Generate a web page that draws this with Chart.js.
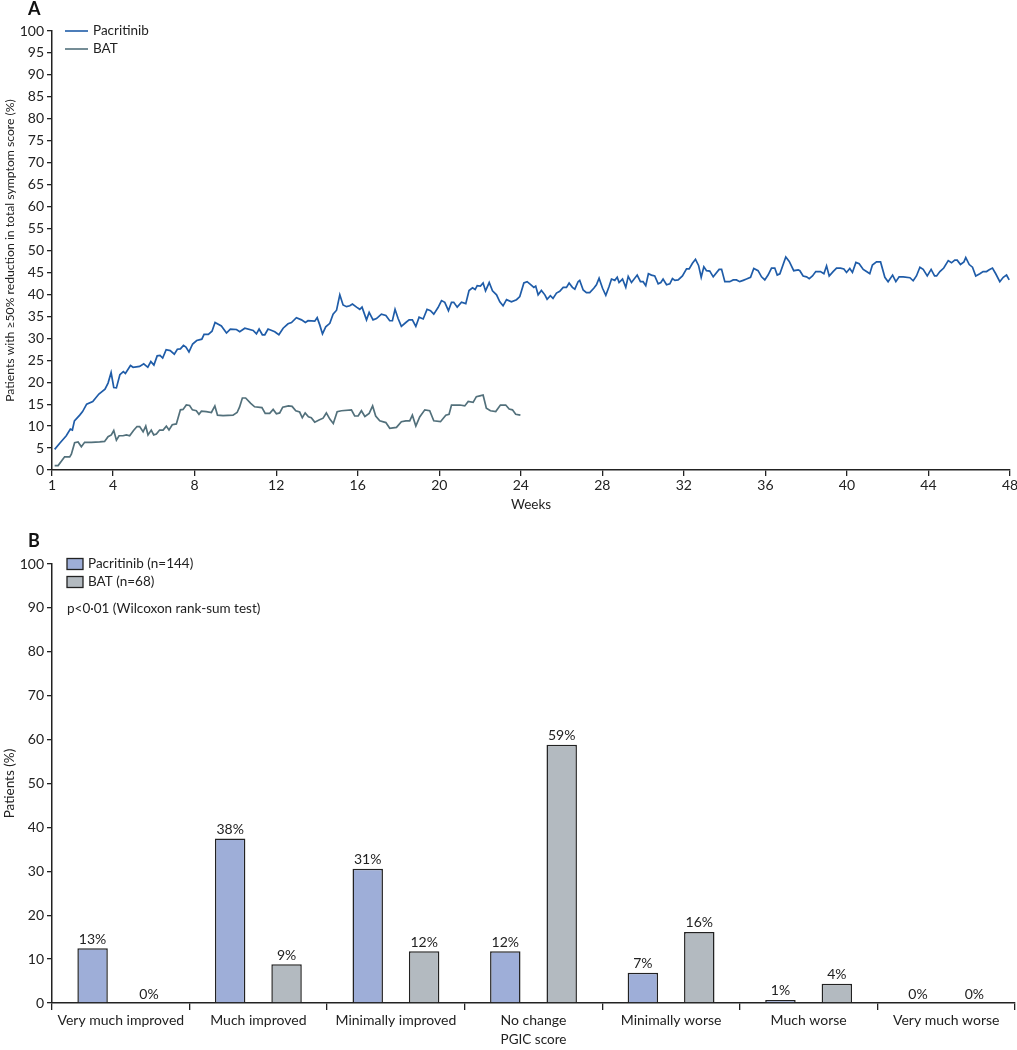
<!DOCTYPE html>
<html>
<head>
<meta charset="utf-8">
<script src="https://cdn.jsdelivr.net/npm/chart.js@4.4.0/dist/chart.umd.min.js"></script>
<style>
  body { margin: 0; background: #fff; font-family: Lato, sans-serif; }
  #wrap { position: relative; width: 1017px; height: 1050px; }
  canvas { position: absolute; left: 0; }
  #chartA { top: 0; }
  #chartB { top: 520px; }
  .panel { position: absolute; left: 28px; font-weight: bold; font-size: 18px; color: #111; }
</style>
</head>
<body>
<div id="wrap">
  <canvas id="chartA" width="1017" height="520"></canvas>
  <canvas id="chartB" width="1017" height="530"></canvas>
  <div class="panel" style="top:-3px">A</div>
  <div class="panel" style="top:529px">B</div>
</div>
<script>
// Panel A: weekly response curves
const weekTicks = [1, 4, 8, 12, 16, 20, 24, 28, 32, 36, 40, 44, 48];

const pacWeeks = [1.13, 1.38, 1.7, 1.9, 2.0, 2.1, 2.36, 2.5, 2.7, 3.0, 3.3, 3.6, 3.75, 3.9, 4.03, 4.16, 4.33, 4.5, 4.6, 4.85,
  4.98, 5.3, 5.5, 5.7, 5.85, 6.0, 6.16, 6.3, 6.43, 6.6, 6.8, 7.0, 7.15, 7.3, 7.45, 7.57, 7.72, 7.9, 8.1, 8.35,
  8.46, 8.67, 8.85, 9.0, 9.31, 9.56, 9.75, 10.05, 10.21, 10.46, 10.87, 11.03, 11.16, 11.32, 11.44, 11.6, 11.93, 12.13, 12.34, 12.58,
  12.75, 12.99, 13.24, 13.43, 13.56, 13.89, 14.01, 14.14, 14.27, 14.43, 14.63, 14.79, 14.96, 15.12, 15.28, 15.45, 15.61, 15.74, 15.94, 16.1,
  16.21, 16.43, 16.56, 16.75, 16.92, 17.16, 17.38, 17.57, 17.7, 17.83, 17.98, 18.14, 18.36, 18.52, 18.68, 18.85, 19.01, 19.21, 19.4, 19.57,
  19.73, 19.94, 20.11, 20.27, 20.45, 20.6, 20.71, 20.88, 21.09, 21.3, 21.46, 21.63, 21.76, 21.86, 22.02, 22.15, 22.27, 22.45, 22.61, 22.81,
  22.97, 23.13, 23.3, 23.54, 23.79, 23.95, 24.15, 24.31, 24.47, 24.64, 24.73, 24.85, 25.01, 25.18, 25.29, 25.45, 25.58, 25.75, 25.91, 26.08,
  26.24, 26.37, 26.53, 26.65, 26.81, 26.89, 27.06, 27.22, 27.38, 27.58, 27.71, 27.84, 28.01, 28.17, 28.33, 28.45, 28.61, 28.73, 28.82, 28.99,
  29.15, 29.27, 29.43, 29.71, 29.87, 30.0, 30.13, 30.26, 30.41, 30.57, 30.74, 30.87, 30.98, 31.15, 31.31, 31.44, 31.56, 31.72, 31.93, 32.13,
  32.26, 32.42, 32.57, 32.72, 32.85, 32.98, 33.11, 33.27, 33.44, 33.73, 33.85, 34.01, 34.25, 34.42, 34.58, 34.74, 34.91, 35.07, 35.27, 35.43,
  35.64, 35.81, 35.97, 36.13, 36.3, 36.46, 36.58, 36.71, 37.0, 37.17, 37.39, 37.61, 37.69, 37.85, 38.02, 38.15, 38.31, 38.47, 38.7, 38.87,
  39.0, 39.13, 39.32, 39.49, 39.68, 39.85, 39.98, 40.14, 40.27, 40.44, 40.6, 40.8, 40.96, 41.12, 41.25, 41.45, 41.65, 41.86, 42.02, 42.24,
  42.4, 42.56, 42.76, 43.09, 43.25, 43.41, 43.58, 43.74, 43.94, 44.13, 44.3, 44.4, 44.56, 44.75, 44.97, 45.13, 45.29, 45.41, 45.57, 45.74,
  45.83, 46.0, 46.16, 46.32, 46.52, 46.68, 46.85, 46.98, 47.14, 47.3, 47.5, 47.67, 47.83, 47.96];
const pacValues = [4.7, 6.1, 7.8, 9.3, 9.1, 11.2, 12.5, 13.3, 15.0, 15.6, 17.3, 18.4, 19.8, 22.2, 18.8, 18.7, 21.7, 22.4, 22.0, 23.8,
  23.4, 23.6, 24.2, 23.4, 24.7, 23.9, 26.0, 26.1, 25.5, 27.4, 27.2, 26.4, 27.5, 27.6, 28.4, 28.0, 26.9, 28.7, 29.5, 29.8,
  30.9, 30.9, 31.6, 33.6, 32.8, 31.2, 32.1, 32.0, 31.5, 32.3, 31.8, 31.0, 32.1, 30.8, 30.8, 32.1, 31.5, 30.8, 32.3, 33.3,
  33.6, 34.7, 34.2, 33.6, 34.0, 33.9, 34.7, 33.0, 31.0, 32.6, 33.4, 35.5, 36.4, 39.9, 37.6, 37.2, 37.4, 37.8, 37.1, 36.6,
  37.1, 34.2, 35.9, 34.2, 34.5, 35.5, 35.2, 34.0, 34.0, 36.6, 34.5, 32.7, 33.6, 34.2, 34.2, 32.7, 34.8, 34.4, 36.6, 36.3,
  35.5, 37.0, 38.6, 38.2, 36.3, 38.2, 38.2, 37.1, 38.2, 37.9, 40.9, 41.5, 41.1, 42.0, 41.9, 42.6, 40.8, 42.7, 40.8, 39.9,
  38.3, 37.4, 38.8, 38.3, 38.8, 39.5, 42.6, 42.9, 42.3, 41.6, 41.9, 39.9, 40.9, 39.9, 38.9, 39.7, 39.1, 40.3, 40.7, 41.6,
  41.6, 42.6, 41.6, 41.2, 42.9, 43.2, 41.0, 40.4, 40.4, 41.4, 42.2, 43.7, 41.4, 39.8, 41.8, 43.5, 43.2, 43.9, 42.7, 43.5,
  41.6, 44.1, 42.7, 44.4, 42.9, 42.9, 42.0, 44.7, 44.4, 44.2, 42.4, 42.7, 43.5, 42.2, 42.4, 43.6, 43.2, 43.3, 44.2, 45.8,
  45.8, 47.1, 48.0, 46.6, 43.9, 46.3, 45.4, 45.3, 44.0, 45.7, 45.7, 42.9, 42.9, 43.3, 43.3, 42.9, 43.2, 43.5, 43.9, 45.9,
  45.4, 44.0, 43.3, 44.4, 46.0, 46.0, 44.4, 44.7, 48.5, 47.5, 45.4, 45.6, 45.4, 44.2, 44.0, 43.6, 44.2, 45.2, 45.2, 44.7,
  46.5, 44.2, 45.2, 46.0, 46.0, 45.8, 45.0, 45.9, 45.0, 47.3, 47.0, 45.7, 45.2, 44.7, 46.7, 47.4, 47.4, 43.9, 42.9, 44.4,
  42.9, 44.0, 44.0, 43.8, 43.1, 44.2, 46.2, 45.7, 44.2, 45.7, 44.2, 44.2, 45.2, 46.0, 47.7, 47.2, 47.8, 47.8, 46.8, 47.4,
  48.4, 46.8, 46.2, 44.2, 44.7, 45.2, 45.2, 45.6, 46.0, 44.7, 42.9, 43.9, 44.4, 43.3];

const batWeeks = [1.13, 1.3, 1.62, 1.87, 1.95, 2.11, 2.28, 2.44, 2.6, 2.93, 3.34, 3.58, 3.75, 3.91, 4.03, 4.16, 4.29, 4.48, 4.65, 4.81,
  5.0, 5.17, 5.3, 5.47, 5.6, 5.71, 5.87, 5.99, 6.12, 6.28, 6.45, 6.61, 6.74, 6.9, 7.1, 7.3, 7.43, 7.59, 7.75, 7.89,
  8.08, 8.21, 8.33, 8.57, 8.82, 8.99, 9.12, 9.39, 9.88, 10.08, 10.2, 10.34, 10.5, 10.75, 10.94, 11.3, 11.46, 11.68, 11.85, 12.01,
  12.17, 12.32, 12.6, 12.78, 12.96, 13.15, 13.28, 13.42, 13.58, 13.72, 13.89, 14.1, 14.3, 14.46, 14.63, 14.8, 14.99, 15.2, 15.69, 15.85,
  16.02, 16.18, 16.35, 16.56, 16.73, 16.88, 17.08, 17.38, 17.57, 17.9, 18.14, 18.36, 18.55, 18.68, 18.85, 19.04, 19.29, 19.53, 19.73, 20.06,
  20.32, 20.48, 20.6, 20.81, 21.01, 21.25, 21.42, 21.66, 21.82, 21.99, 22.15, 22.31, 22.51, 22.77, 23.0, 23.26, 23.43, 23.59, 23.75, 23.98];
const batValues = [1.0, 1.0, 3.0, 3.0, 3.6, 6.2, 6.4, 5.3, 6.3, 6.3, 6.4, 6.5, 7.6, 8.0, 9.0, 6.8, 7.8, 7.8, 8.0, 7.8,
  9.0, 9.9, 9.9, 8.7, 10.0, 8.0, 9.1, 8.0, 8.2, 9.1, 9.1, 10.0, 9.1, 10.3, 10.5, 13.7, 13.8, 14.8, 14.7, 13.7,
  13.5, 12.7, 13.4, 13.3, 13.1, 14.6, 12.5, 12.4, 12.5, 13.1, 14.3, 16.4, 16.4, 15.2, 14.4, 14.2, 12.9, 12.9, 13.8, 12.8,
  13.0, 14.3, 14.6, 14.5, 13.5, 13.2, 11.9, 13.0, 12.1, 11.9, 10.9, 11.4, 11.8, 13.0, 11.6, 10.6, 13.3, 13.5, 13.7, 12.3,
  12.3, 13.5, 12.2, 12.9, 14.6, 12.3, 11.2, 10.8, 9.5, 9.7, 11.0, 11.2, 11.2, 12.5, 10.0, 12.1, 13.7, 13.5, 11.2, 11.0,
  12.5, 12.7, 14.8, 14.8, 14.8, 14.6, 15.6, 15.4, 16.7, 16.9, 17.1, 14.1, 13.5, 13.3, 14.8, 14.8, 13.9, 13.7, 12.7, 12.5];

// Panel B: PGIC score distribution
const pgicCategories = ["Very much improved", "Much improved", "Minimally improved", "No change", "Minimally worse", "Much worse", "Very much worse"];
const pacPgic = [12.5, 37.5, 30.6, 11.8, 6.9, 0.7, 0];
const batPgic = [0, 8.8, 11.8, 58.8, 16.2, 4.4, 0];
const pacPgicLabels = ["13%", "38%", "31%", "12%", "7%", "1%", "0%"];
const batPgicLabels = ["0%", "9%", "12%", "59%", "16%", "4%", "0%"];

const ink = "#222";
const fontFamily = "Lato, 'Open Sans', sans-serif";
Chart.defaults.font.family = fontFamily;
Chart.defaults.color = ink;

function toPoints(xs, ys) {
  return xs.map((x, i) => ({ x: x, y: ys[i] }));
}

function axisStyle(tickLength) {
  return {
    grid: { display: true, drawOnChartArea: false, drawTicks: true, tickLength: tickLength, color: ink, lineWidth: 1.3 },
    border: { display: true, color: ink, width: 1.5 }
  };
}

// legend drawn inside the plot area, top-left
const insideLegend = {
  id: "insideLegend",
  afterDraw(chart, args, opts) {
    const ctx = chart.ctx;
    ctx.save();
    ctx.font = "13.5px " + fontFamily;
    ctx.textBaseline = "middle";
    ctx.fillStyle = ink;
    opts.items.forEach((item, i) => {
      const y = opts.y + i * opts.gap;
      const ds = chart.data.datasets[i];
      if (opts.type === "line") {
        ctx.strokeStyle = ds.borderColor;
        ctx.lineWidth = 1.6;
        ctx.beginPath();
        ctx.moveTo(opts.x, y);
        ctx.lineTo(opts.x + 23, y);
        ctx.stroke();
        ctx.fillText(item, opts.x + 28, y);
      } else {
        ctx.fillStyle = ds.backgroundColor;
        ctx.fillRect(opts.x, y - 5.5, 16, 11);
        ctx.strokeStyle = ink;
        ctx.lineWidth = 1.3;
        ctx.strokeRect(opts.x, y - 5.5, 16, 11);
        ctx.fillStyle = ink;
        ctx.fillText(item, opts.x + 21, y);
      }
    });
    if (opts.note) ctx.fillText(opts.note, opts.x, opts.noteY);
    ctx.restore();
  }
};

// percentage labels above bars
const barLabels = {
  id: "barLabels",
  afterDatasetsDraw(chart, args, opts) {
    const ctx = chart.ctx;
    ctx.save();
    ctx.font = "14px " + fontFamily;
    ctx.fillStyle = ink;
    ctx.textAlign = "center";
    ctx.textBaseline = "bottom";
    chart.data.datasets.forEach((ds, di) => {
      chart.getDatasetMeta(di).data.forEach((bar, i) => {
        ctx.fillText(opts.labels[di][i], bar.x, bar.y - 2);
      });
    });
    ctx.restore();
  }
};

new Chart(document.getElementById("chartA"), {
  type: "line",
  data: {
    datasets: [
      { label: "Pacritinib", data: toPoints(pacWeeks, pacValues), borderColor: "#1f5ca8", borderWidth: 1.7, pointRadius: 0, tension: 0 },
      { label: "BAT", data: toPoints(batWeeks, batValues), borderColor: "#52707b", borderWidth: 1.7, pointRadius: 0, tension: 0 }
    ]
  },
  options: {
    responsive: false,
    animation: false,
    layout: { padding: { top: 31, right: 7, left: 0, bottom: 0 } },
    plugins: {
      legend: { display: false },
      tooltip: { enabled: false },
      insideLegend: { type: "line", items: ["Pacritinib", "BAT"], x: 65, y: 31, gap: 18 }
    },
    scales: {
      x: {
        type: "linear", min: 1, max: 48,
        ...axisStyle(6),
        afterBuildTicks: s => { s.ticks = weekTicks.map(v => ({ value: v })); },
        afterFit: s => { s.height = 50; s.paddingLeft = 0; s.paddingRight = 0; },
        ticks: { autoSkip: false, maxRotation: 0, padding: 1, font: { size: 14 } },
        title: { display: true, text: "Weeks", font: { size: 13.5 }, padding: { top: 2, bottom: 7 } }
      },
      y: {
        min: 0, max: 100,
        ...axisStyle(5),
        afterFit: s => { s.width = 52; },
        ticks: { stepSize: 5, padding: 3, font: { size: 14 } },
        title: { display: true, text: "Patients with \u226550% reduction in total symptom score (%)", font: { size: 12.2 }, padding: { top: 3, bottom: 0 } }
      }
    }
  },
  plugins: [insideLegend]
});

new Chart(document.getElementById("chartB"), {
  type: "bar",
  data: {
    labels: pgicCategories,
    datasets: [
      { label: "Pacritinib (n=144)", data: pacPgic, backgroundColor: "#9eaed8", borderColor: ink, borderWidth: 1.5, categoryPercentage: 0.82, barPercentage: 0.54 },
      { label: "BAT (n=68)", data: batPgic, backgroundColor: "#b3bac0", borderColor: ink, borderWidth: 1.5, categoryPercentage: 0.82, barPercentage: 0.54 }
    ]
  },
  options: {
    responsive: false,
    animation: false,
    layout: { padding: { top: 44, right: 2, left: 0, bottom: 0 } },
    plugins: {
      legend: { display: false },
      tooltip: { enabled: false },
      insideLegend: { type: "box", items: ["Pacritinib (n=144)", "BAT (n=68)"], x: 67, y: 44, gap: 18, note: "p<0\u00b701 (Wilcoxon rank-sum test)", noteY: 89 },
      barLabels: { labels: [pacPgicLabels, batPgicLabels] }
    },
    scales: {
      x: {
        ...axisStyle(7),
        grid: { display: true, offset: true, drawOnChartArea: false, drawTicks: true, tickLength: 7, color: ink, lineWidth: 1.3 },
        afterFit: s => { s.height = 47; },
        ticks: { autoSkip: false, maxRotation: 0, padding: 2, font: { size: 14 } },
        title: { display: true, text: "PGIC score", font: { size: 13.5 }, padding: { top: 2, bottom: 2 } }
      },
      y: {
        min: 0, max: 100,
        ...axisStyle(5),
        afterFit: s => { s.width = 52; },
        ticks: { stepSize: 10, padding: 3, font: { size: 14 } },
        title: { display: true, text: "Patients (%)", font: { size: 13.5 }, padding: { top: 2, bottom: 0 } }
      }
    }
  },
  plugins: [insideLegend, barLabels]
});
</script>
</body>
</html>
